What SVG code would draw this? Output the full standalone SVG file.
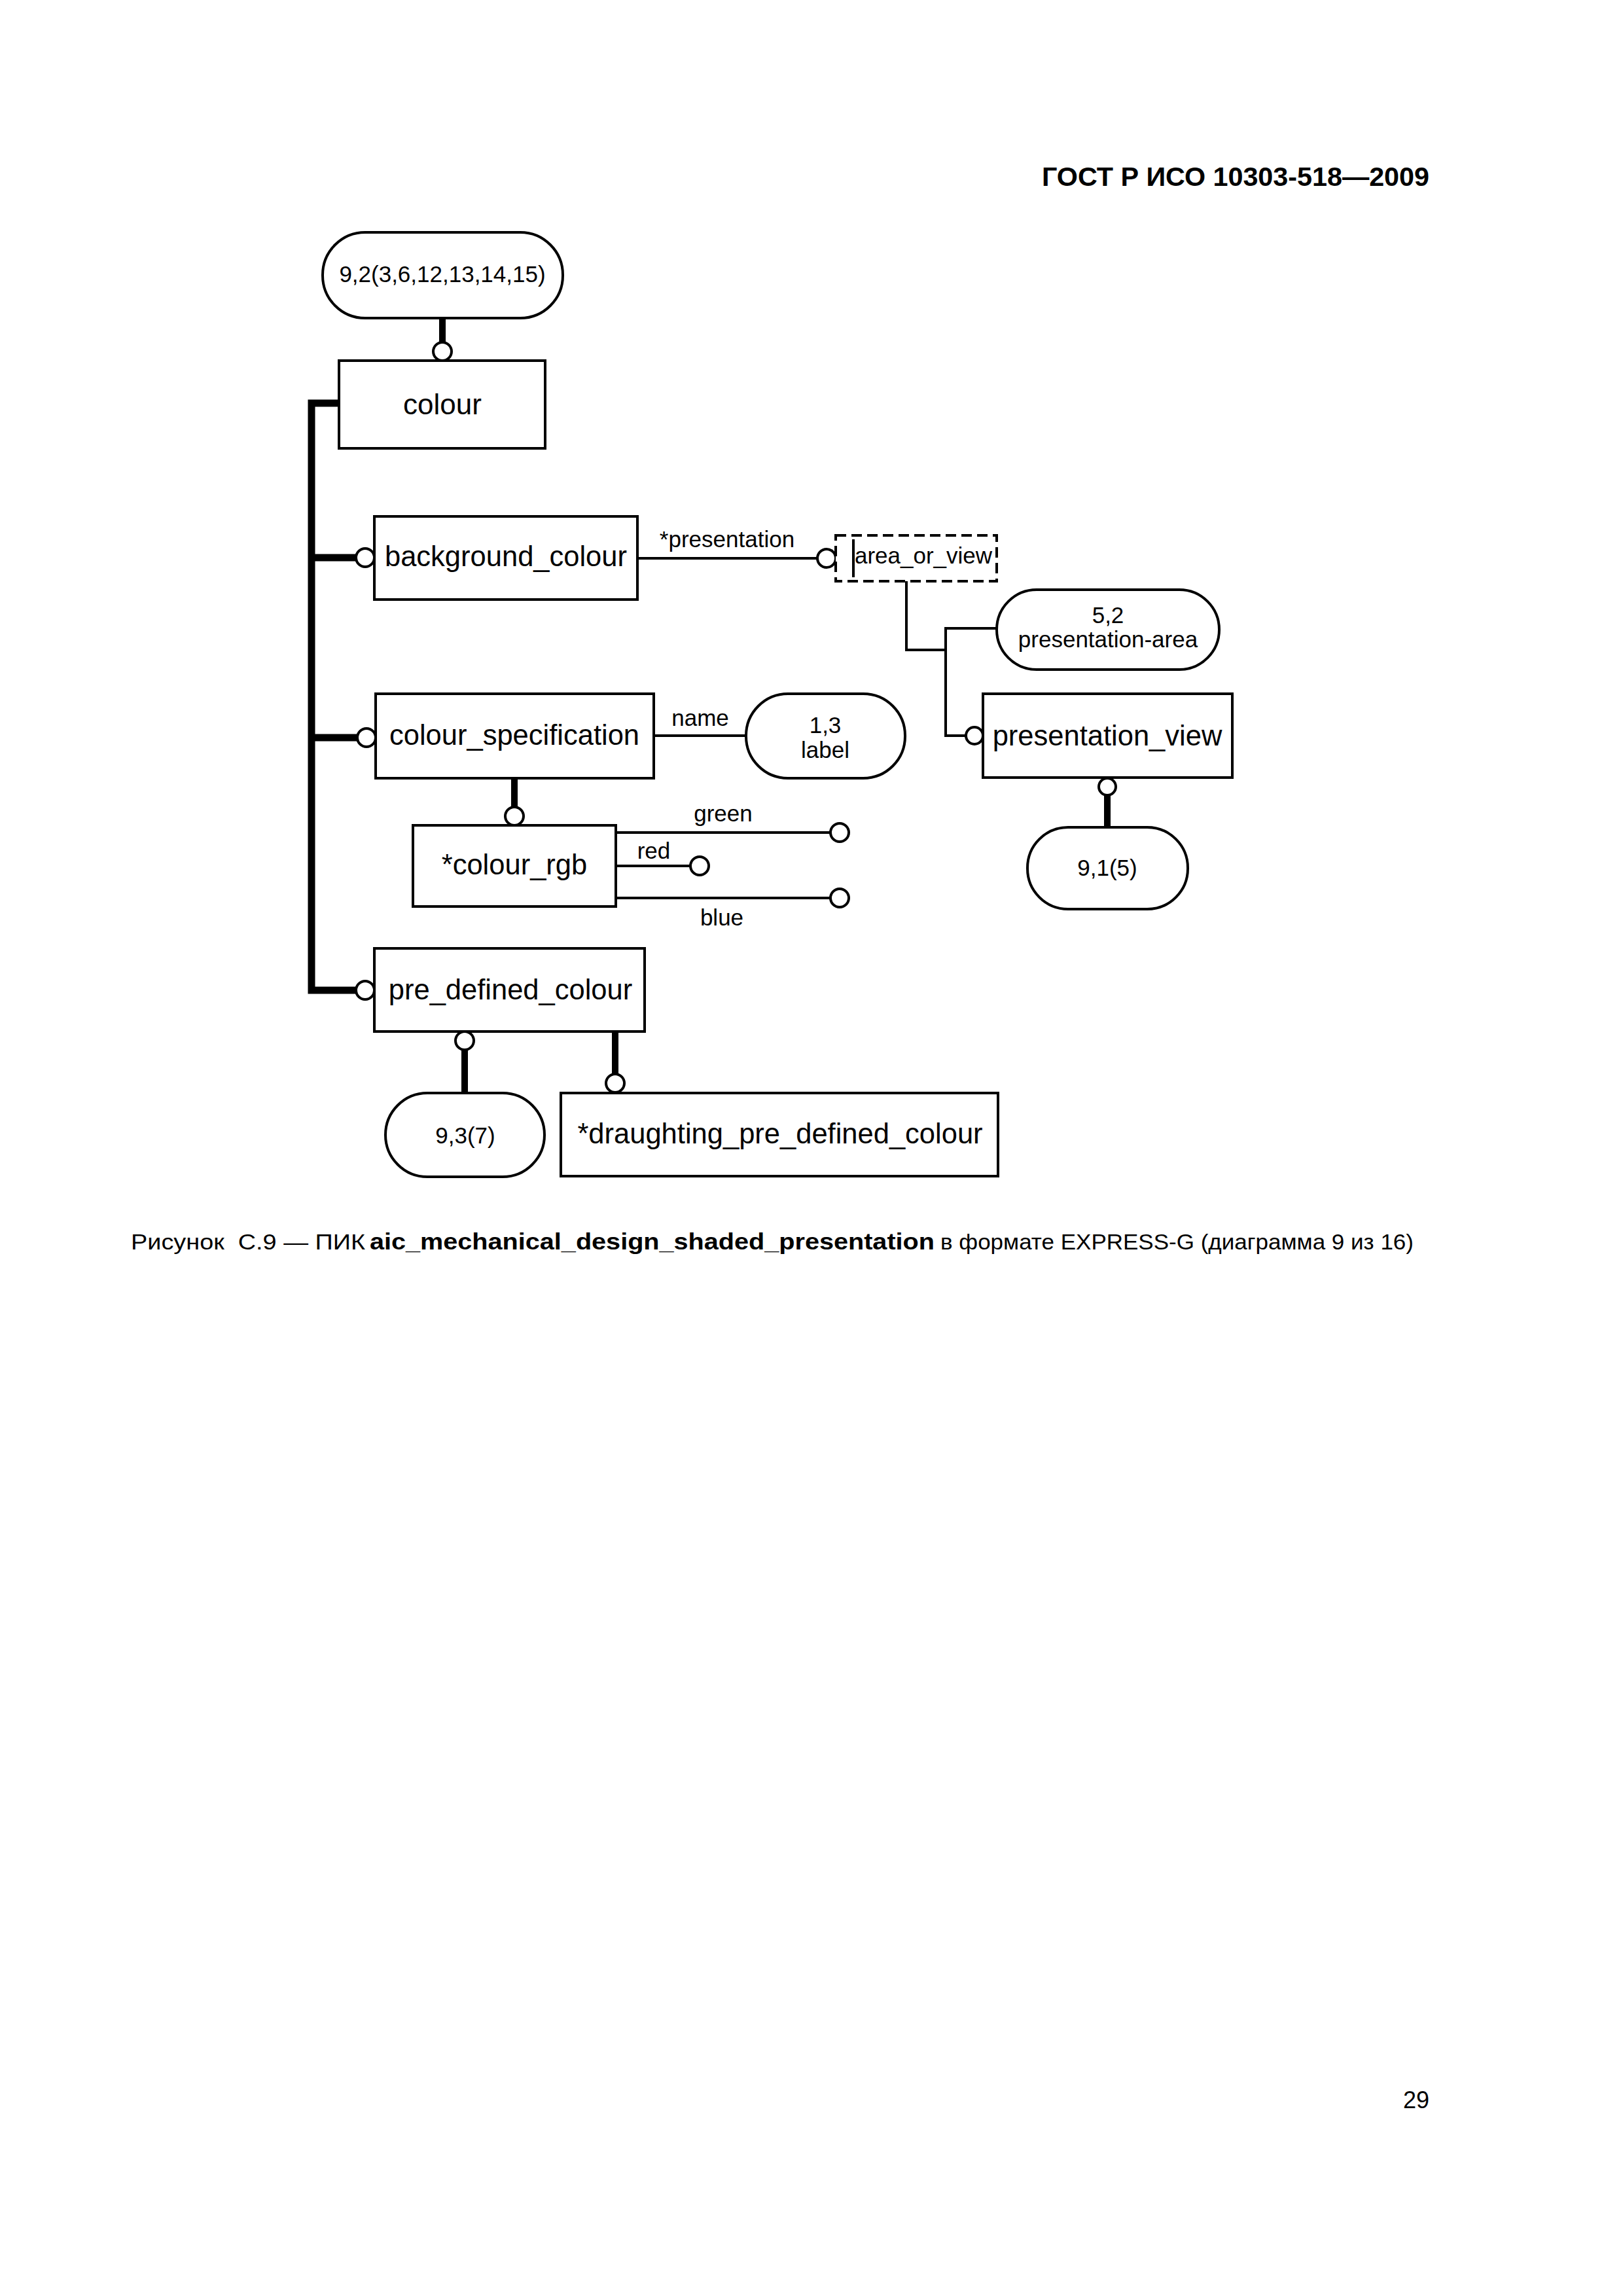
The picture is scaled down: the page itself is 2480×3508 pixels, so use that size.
<svg xmlns="http://www.w3.org/2000/svg" width="2480" height="3508" viewBox="0 0 2480 3508">
<style>
text{font-family:"Liberation Sans",Arial,sans-serif;fill:#000}
.n{font-size:43.5px;text-anchor:middle}
.l{font-size:35px;text-anchor:middle}
.box{fill:#fff;stroke:#000;stroke-width:4}
.dash{fill:#fff;stroke:#000;stroke-width:4;stroke-dasharray:16 8}
.ln{fill:none;stroke:#000;stroke-width:4}
.thk{fill:none;stroke:#000;stroke-width:10}
.tree{fill:none;stroke:#000;stroke-width:11}
.c{fill:#fff;stroke:#000;stroke-width:4}
</style>
<rect x="0" y="0" width="2480" height="3508" fill="#fff"/>
<text x="1592" y="284" font-size="40" font-weight="bold" textLength="592" lengthAdjust="spacingAndGlyphs">ГОСТ Р ИСО 10303-518—2009</text>

<g id="connectors">
  <path class="thk" d="M676,486 V524"/>
  <path class="tree" d="M518,616 H476 V1513 H546"/>
  <path class="tree" d="M476,852 H546"/>
  <path class="tree" d="M476,1127 H548"/>
  <path class="ln" d="M974,853 H1250"/>
  <path class="ln" d="M1385,888 V993 H1445"/>
  <path class="ln" d="M1523,960 H1445 V1124 H1477"/>
  <path class="thk" d="M1692,1214 V1264"/>
  <path class="ln" d="M999,1124 H1140"/>
  <path class="thk" d="M786,1189 V1235"/>
  <path class="ln" d="M941,1272 H1270"/>
  <path class="ln" d="M941,1323 H1056"/>
  <path class="ln" d="M941,1372 H1270"/>
  <path class="thk" d="M710,1602 V1670"/>
  <path class="thk" d="M940,1576 V1642"/>
  <circle class="c" cx="676" cy="537" r="14"/>
  <circle class="c" cx="558" cy="852" r="14"/>
  <circle class="c" cx="560" cy="1127" r="14"/>
  <circle class="c" cx="558" cy="1513" r="14"/>
  <circle class="c" cx="1263" cy="853" r="14"/>
  <circle class="c" cx="1489" cy="1124" r="13"/>
  <circle class="c" cx="1692" cy="1202" r="13"/>
  <circle class="c" cx="786" cy="1247" r="14"/>
  <circle class="c" cx="1283" cy="1272" r="14"/>
  <circle class="c" cx="1069" cy="1323" r="14"/>
  <circle class="c" cx="1283" cy="1372" r="14"/>
  <circle class="c" cx="710" cy="1590" r="14"/>
  <circle class="c" cx="940" cy="1655" r="14"/>
  <text class="l" x="1111" y="836">*presentation</text>
  <text class="l" x="1070" y="1109">name</text>
  <text class="l" x="1105" y="1255">green</text>
  <text class="l" x="999" y="1312">red</text>
  <text class="l" x="1103" y="1414">blue</text>
</g>

<g id="ref_9_2">
  <rect class="box" x="493" y="355" width="367" height="131" rx="65"/>
  <text class="l" x="676" y="431">9,2(3,6,12,13,14,15)</text>
</g>
<g id="colour">
  <rect class="box" x="518" y="551" width="315" height="134"/>
  <text class="n" x="676" y="633" style="font-size:44px">colour</text>
</g>
<g id="background_colour">
  <rect class="box" x="572" y="789" width="402" height="127"/>
  <text class="n" x="773" y="865">background_colour</text>
</g>
<g id="area_or_view">
  <rect class="dash" x="1277" y="818" width="246" height="70"/>
  <path class="ln" d="M1304,824 V882"/>
  <text class="l" x="1411" y="861">area_or_view</text>
</g>
<g id="ref_5_2">
  <rect class="box" x="1523" y="901" width="340" height="122" rx="61"/>
  <text class="l" x="1693" y="952">5,2</text>
  <text class="l" x="1693" y="989">presentation-area</text>
</g>
<g id="presentation_view">
  <rect class="box" x="1502" y="1060" width="381" height="128"/>
  <text class="n" x="1692" y="1139">presentation_view</text>
</g>
<g id="ref_9_1">
  <rect class="box" x="1570" y="1264" width="245" height="125" rx="62"/>
  <text class="l" x="1692" y="1338">9,1(5)</text>
</g>
<g id="colour_specification">
  <rect class="box" x="574" y="1060" width="425" height="129"/>
  <text class="n" x="786" y="1138">colour_specification</text>
</g>
<g id="ref_1_3">
  <rect class="box" x="1140" y="1060" width="243" height="129" rx="64"/>
  <text class="l" x="1261" y="1120">1,3</text>
  <text class="l" x="1261" y="1158">label</text>
</g>
<g id="colour_rgb">
  <rect class="box" x="631" y="1261" width="310" height="124"/>
  <text class="n" x="786" y="1336">*colour_rgb</text>
</g>
<g id="pre_defined_colour">
  <rect class="box" x="572" y="1449" width="413" height="127"/>
  <text class="n" x="780" y="1527">pre_defined_colour</text>
</g>
<g id="ref_9_3">
  <rect class="box" x="589" y="1670" width="243" height="128" rx="64"/>
  <text class="l" x="711" y="1747">9,3(7)</text>
</g>
<g id="draughting_pre_defined_colour">
  <rect class="box" x="857" y="1670" width="668" height="127"/>
  <text class="n" x="1192" y="1747">*draughting_pre_defined_colour</text>
</g>

<text x="200" y="1909" font-size="33" textLength="358" lengthAdjust="spacingAndGlyphs">Рисунок&#160; C.9 — ПИК</text>
<text x="565" y="1909" font-size="35" font-weight="bold" textLength="863" lengthAdjust="spacingAndGlyphs">aic_mechanical_design_shaded_presentation</text>
<text x="1437" y="1909" font-size="33" textLength="723" lengthAdjust="spacingAndGlyphs">в формате EXPRESS-G (диаграмма 9 из 16)</text>
<text x="2184" y="3221" font-size="36" text-anchor="end">29</text>
</svg>
